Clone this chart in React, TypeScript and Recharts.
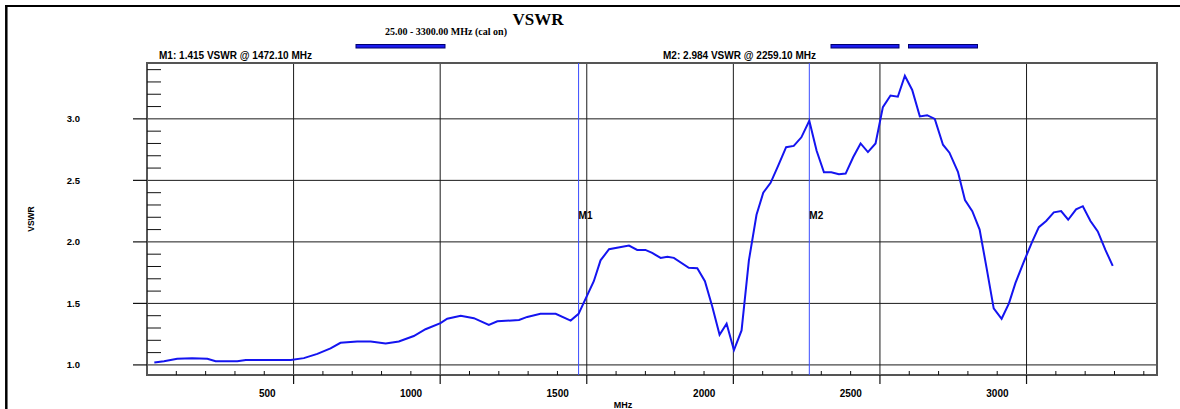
import { LineChart, Line, XAxis, YAxis, CartesianGrid, ReferenceLine, ReferenceArea } from 'recharts';

// sweep (MHz, VSWR)
const freqMHz = [
  25, 58, 103, 154, 206, 234, 308, 337, 490, 535, 581, 626, 660, 717, 763, 814, 859, 910, 950, 1001,
  1024, 1070, 1115, 1166, 1195, 1269, 1297, 1342, 1394, 1445, 1472, 1524, 1547, 1576, 1644, 1672, 1700,
  1723, 1752, 1775, 1797, 1848, 1877, 1903, 1928, 1953, 1977, 2002, 2028, 2053, 2079, 2102, 2127, 2153,
  2180, 2206, 2232, 2259, 2284, 2309, 2334, 2360, 2383, 2409, 2434, 2459, 2485, 2510, 2536, 2561, 2585,
  2610, 2636, 2661, 2687, 2715, 2737, 2766, 2790, 2815, 2840, 2864, 2888, 2915, 2940, 2962, 2991, 3019,
  3042, 3067, 3093, 3118, 3142, 3169, 3192, 3218, 3243, 3269, 3294,
];
const vswr = [
  1.02, 1.03, 1.05, 1.055, 1.05, 1.03, 1.03, 1.04, 1.04, 1.055, 1.09, 1.135, 1.18, 1.19, 1.19, 1.175, 1.19, 1.235, 1.29, 1.34,
  1.375, 1.4, 1.38, 1.325, 1.355, 1.365, 1.39, 1.415, 1.415, 1.36, 1.415, 1.68, 1.85, 1.94, 1.97, 1.935, 1.935,
  1.91, 1.87, 1.88, 1.87, 1.79, 1.785, 1.68, 1.475, 1.245, 1.335, 1.12, 1.28, 1.85, 2.22, 2.4, 2.48, 2.62,
  2.77, 2.78, 2.85, 2.984, 2.74, 2.565, 2.565, 2.55, 2.555, 2.69, 2.8, 2.73, 2.8, 3.095, 3.19, 3.18, 3.35,
  3.235, 3.02, 3.03, 3.0, 2.79, 2.725, 2.57, 2.34, 2.25, 2.1, 1.785, 1.46, 1.375, 1.5, 1.665, 1.84, 2.0,
  2.12, 2.17, 2.24, 2.25, 2.18, 2.265, 2.29, 2.17, 2.085, 1.935, 1.805,
];

const xMajorTicks = [500, 1000, 1500, 2000, 2500, 3000];
const xMinorTicks = [
  100, 200, 300, 400, 600, 700, 800, 900, 1100, 1200, 1300, 1400, 1600, 1700, 1800, 1900,
  2100, 2200, 2300, 2400, 2600, 2700, 2800, 2900, 3100, 3200, 3300, 3400,
];
const yMajorTicks = [1.0, 1.5, 2.0, 2.5, 3.0];
const yMinorTicks = [
  1.1, 1.2, 1.3, 1.4, 1.6, 1.7, 1.8, 1.9, 2.1, 2.2, 2.3, 2.4, 2.6, 2.7, 2.8, 2.9, 3.1, 3.2, 3.3, 3.4,
];
const xDomain = [0, 3445];
const yDomain = [0.918, 3.454];

const markers = [
  { name: 'M1', freq: 1472.1, value: 1.415 },
  { name: 'M2', freq: 2259.1, value: 2.984 },
];

const data = freqMHz.map((f, i) => ({ f, v: vswr[i] }));

// minor tick lengths in data units (14px across, 4px up)
const PX_PER_MHZ = 1010 / (xDomain[1] - xDomain[0]);
const PX_PER_UNIT = 312 / (yDomain[1] - yDomain[0]);
const yMinorLen = 14 / PX_PER_MHZ;
const xMinorLen = 4 / PX_PER_UNIT;

const SANS = '"Liberation Sans", Arial, sans-serif';
const SERIF = '"Liberation Serif", "Times New Roman", serif';
const LINE_BLUE = '#1414f0';
const MARKER_BLUE = '#3a4cff';

const XTick = ({ x, y, payload }: any) => (
  <text x={x - 18} y={y + 10.5} textAnchor="end" fontFamily={SANS} fontWeight="bold" fontSize={10} fill="#000">
    {payload.value}
  </text>
);

const YTick = ({ x, y, payload }: any) => (
  <text x={x} y={y + 3.4} textAnchor="end" fontFamily={SANS} fontWeight="bold" fontSize={9.5} fill="#000">
    {payload.value.toFixed(1)}
  </text>
);

const MarkerLabel = ({ viewBox, text }: any) => (
  <text
    x={viewBox.x}
    y={viewBox.y + viewBox.height / 2 - 0.5}
    fontFamily={SANS}
    fontWeight="bold"
    fontSize={10}
    fill="#000"
  >
    {text}
  </text>
);

const markerText = (m: { name: string; freq: number; value: number }) =>
  `${m.name}: ${m.value.toFixed(3)} VSWR @ ${m.freq.toFixed(2)} MHz`;

export default function App() {
  return (
    <div style={{ position: 'absolute', left: 0, top: 0, width: 1180, height: 409, background: '#fff' }}>
      <LineChart width={1180} height={409} data={data} margin={{ top: 63, right: 23, bottom: 0, left: 0 }}>
        <CartesianGrid stroke="#1a1a1a" strokeWidth={1} />
        <XAxis
          dataKey="f"
          type="number"
          domain={xDomain}
          ticks={xMajorTicks}
          height={34}
          axisLine={false}
          tickSize={9}
          tickLine={{ stroke: '#111', strokeWidth: 1.2 }}
          tick={<XTick />}
        />
        <YAxis
          type="number"
          domain={yDomain}
          ticks={yMajorTicks}
          width={147}
          axisLine={false}
          tickSize={14}
          tickMargin={53}
          tickLine={{ stroke: '#111', strokeWidth: 1.2 }}
          tick={<YTick />}
          label={{
            value: 'VSWR',
            angle: -90,
            position: 'insideLeft',
            offset: 31,
            style: { fontFamily: SANS, fontWeight: 'bold', fontSize: 8.5, fill: '#000', textAnchor: 'middle' },
          }}
        />
        {yMinorTicks.map((v) => (
          <ReferenceLine
            key={`ym${v}`}
            segment={[{ x: xDomain[0], y: v }, { x: xDomain[0] + yMinorLen, y: v }]}
            stroke="#111"
            strokeWidth={1}
          />
        ))}
        {xMinorTicks.map((f) => (
          <ReferenceLine
            key={`xm${f}`}
            segment={[{ x: f, y: yDomain[0] }, { x: f, y: yDomain[0] + xMinorLen }]}
            stroke="#111"
            strokeWidth={1}
          />
        ))}
        <ReferenceArea
          x1={xDomain[0]}
          x2={xDomain[1]}
          y1={yDomain[0]}
          y2={yDomain[1]}
          fill="none"
          fillOpacity={0}
          stroke="#555"
          strokeWidth={2}
        />
        {markers.map((m) => (
          <ReferenceLine
            key={m.name}
            x={m.freq}
            stroke={MARKER_BLUE}
            strokeWidth={1}
            label={<MarkerLabel text={m.name} />}
          />
        ))}
        <Line
          type="linear"
          dataKey="v"
          stroke={LINE_BLUE}
          strokeWidth={2}
          dot={false}
          activeDot={false}
          isAnimationActive={false}
        />
      </LineChart>

      <svg
        width={1180}
        height={409}
        style={{ position: 'absolute', left: 0, top: 0, pointerEvents: 'none' }}
      >
        {/* page frame */}
        <line x1={5} x2={1180} y1={6} y2={6} stroke="#000" strokeWidth={2} />
        <line x1={6.3} x2={6.3} y1={5} y2={409} stroke="#000" strokeWidth={2.5} />

        {/* titles */}
        <text x={538} y={25} textAnchor="middle" fontFamily={SERIF} fontWeight="bold" fontSize={17} fill="#000">
          VSWR
        </text>
        <text x={385} y={35} fontFamily={SERIF} fontWeight="bold" fontSize={9.5} fill="#000" textLength={122} lengthAdjust="spacingAndGlyphs">
          25.00 - 3300.00 MHz (cal on)
        </text>

        {/* band bars */}
        <rect x={356} y={44.5} width={89} height={3.5} fill="#1a1aee" stroke="#000070" strokeWidth={1} />
        <rect x={831} y={44.5} width={68} height={3.5} fill="#1a1aee" stroke="#000070" strokeWidth={1} />
        <rect x={908.5} y={44.5} width={69} height={3.5} fill="#1a1aee" stroke="#000070" strokeWidth={1} />

        {/* marker readouts */}
        <text x={159} y={59.3} fontFamily={SANS} fontWeight="bold" fontSize={10} fill="#000" textLength={153} lengthAdjust="spacingAndGlyphs">
          {markerText(markers[0])}
        </text>
        <text x={663} y={59.3} fontFamily={SANS} fontWeight="bold" fontSize={10} fill="#000" textLength={153} lengthAdjust="spacingAndGlyphs">
          {markerText(markers[1])}
        </text>

        {/* x axis title */}
        <text x={623} y={408} textAnchor="middle" fontFamily={SANS} fontWeight="bold" fontSize={9} fill="#000">
          MHz
        </text>
      </svg>
    </div>
  );
}
